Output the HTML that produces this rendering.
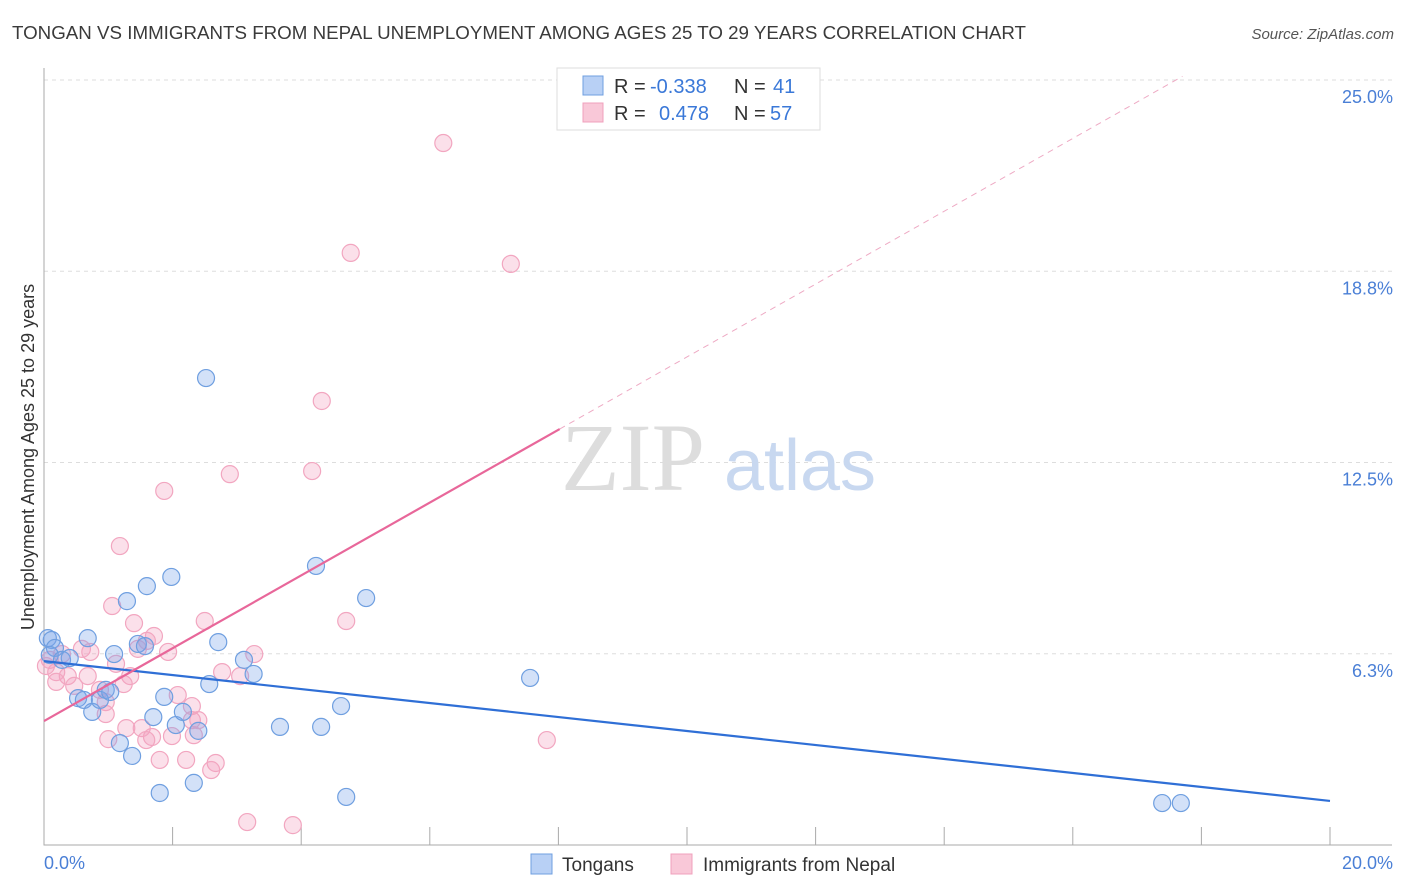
<!DOCTYPE html>
<html><head><meta charset="utf-8"><style>
body{margin:0;background:#fff;font-family:"Liberation Sans",sans-serif;}
svg{display:block}
</style></head><body>
<svg id="chart" width="1406" height="892" xmlns="http://www.w3.org/2000/svg">
<text x="12" y="39" font-size="18" fill="#3a3a3a" textLength="1014" lengthAdjust="spacingAndGlyphs">TONGAN VS IMMIGRANTS FROM NEPAL UNEMPLOYMENT AMONG AGES 25 TO 29 YEARS CORRELATION CHART</text>
<text x="1394" y="39" font-size="15" fill="#555" font-style="italic" text-anchor="end">Source: ZipAtlas.com</text>
<g id="grid"></g>
<g><text x="633" y="490" font-size="96" font-family="Liberation Serif" fill="#ddd" text-anchor="middle">ZIP</text><text x="800" y="490" font-size="72" fill="#c8d8f0" text-anchor="middle">atlas</text></g>
<g id="points"></g>
<g id="lines"></g>
<text transform="translate(34,457) rotate(-90)" font-size="18" fill="#333" text-anchor="middle">Unemployment Among Ages 25 to 29 years</text>
<text x="44" y="869" font-size="18" fill="#4a7fd6">0.0%</text>
<text x="1393" y="869" font-size="18" fill="#4a7fd6" text-anchor="end">20.0%</text>
<g>
<rect x="557" y="68" width="263" height="62" fill="#fff" stroke="#ddd"/>
<rect x="583" y="76" width="20" height="19" fill="#b8d0f5" stroke="#6f9fe0"/>
<rect x="583" y="103" width="20" height="19" fill="#f9c8d8" stroke="#f0a0bc"/>
<g font-size="20" fill="#333">
<text x="614" y="93">R =</text><text x="650" y="93" fill="#3a78d8">-0.338</text><text x="734" y="93">N =</text><text x="773" y="93" fill="#3a78d8">41</text>
<text x="614" y="120">R =</text><text x="659" y="120" fill="#3a78d8">0.478</text><text x="734" y="120">N =</text><text x="770" y="120" fill="#3a78d8">57</text>
</g>
</g>
<g>
<rect x="531" y="854" width="21" height="20" fill="#b8d0f5" stroke="#6f9fe0"/>
<text x="562" y="871" font-size="19" fill="#333">Tongans</text>
<rect x="671" y="854" width="21" height="20" fill="#f9c8d8" stroke="#f0a0bc"/>
<text x="703" y="871" font-size="19" fill="#333">Immigrants from Nepal</text>
</g>
</svg>
<script>
const yTicks=[25,18.75,12.5,6.25];
const yTickLabels=["25.0%","18.8%","12.5%","6.3%"];
const blueX=[0.06,0.12,0.17,0.09,0.28,0.40,0.68,0.53,0.62,0.75,0.87,0.96,1.03,1.09,1.18,1.29,1.37,1.46,1.57,1.60,1.70,1.80,1.87,1.98,2.05,2.16,2.33,2.40,2.52,2.57,2.71,3.11,3.26,3.67,4.23,4.31,4.62,4.70,5.01,7.56,17.39,17.68];
const blueY=[6.76,6.70,6.44,6.21,6.05,6.11,6.76,4.80,4.74,4.35,4.74,5.07,5.00,6.24,3.33,7.97,2.91,6.57,6.50,8.46,4.18,1.70,4.84,8.76,3.92,4.35,2.03,3.73,15.26,5.26,6.63,6.05,5.59,3.86,9.12,3.86,4.54,1.57,8.07,5.46,1.37,1.37];
const pinkX=[6.21,4.77,7.26,4.32,2.89,4.17,1.87,1.18,1.06,2.50,4.70,1.40,1.71,1.60,1.46,3.27,1.93,1.12,0.59,0.72,0.28,0.09,0.19,0.37,0.68,0.47,1.34,1.24,0.87,0.96,2.08,2.30,2.77,3.05,2.30,2.40,0.96,1.28,1.52,1.68,1.99,1.00,1.59,2.33,1.80,2.21,2.67,2.60,7.82,3.16,3.87,0.19,0.03];
const pinkY=[22.94,19.35,18.99,14.51,12.12,12.22,11.57,9.77,7.81,7.32,7.32,7.25,6.83,6.67,6.41,6.24,6.31,5.92,6.41,6.31,6.24,6.05,5.65,5.52,5.52,5.20,5.52,5.26,5.07,4.67,4.90,4.54,5.65,5.52,4.08,4.08,4.28,3.82,3.82,3.53,3.56,3.46,3.43,3.59,2.78,2.78,2.68,2.45,3.43,0.75,0.65,5.33,5.85];
const blueTrend=[6.01,1.44];
const pinkTrend=[4.05,1.19];
const X=v=>44+v*64.3, Y=v=>845-v*30.6;
const NS="http://www.w3.org/2000/svg";
function mk(tag,attrs,parent){const e=document.createElementNS(NS,tag);for(const k in attrs)e.setAttribute(k,attrs[k]);parent.appendChild(e);return e;}
const grid=document.getElementById('grid');
yTicks.forEach((t,i)=>{
 const l=mk('line',{x1:44,x2:1392,y1:Y(t),y2:Y(t),stroke:'#ddd','stroke-dasharray':'4,4'},grid);
 
 
 const tx=mk('text',{x:1393,y:Y(t)+23,'font-size':18,fill:'#4a7fd6','text-anchor':'end'},grid);
 tx.textContent=yTickLabels[i];
 
 
});
const ax=mk('path',{d:`M44 68 V845 H1392`,stroke:'#aaa',fill:'none'},grid);


for(let i=0;i<=20;i+=2){
 const t=mk('line',{x1:X(i),x2:X(i),y1:827,y2:845,stroke:'#aaa'},grid);
 
 
}
const pts=document.getElementById('points');
pinkX.forEach((x,i)=>{
 const c=mk('circle',{cx:X(x),cy:Y(pinkY[i]),r:8.5,fill:'rgba(244,160,190,0.33)',stroke:'#f2a6c0','stroke-width':1.2},pts);
 
 
});
blueX.forEach((x,i)=>{
 const c=mk('circle',{cx:X(x),cy:Y(blueY[i]),r:8.5,fill:'rgba(120,165,235,0.33)',stroke:'#6f9fe0','stroke-width':1.2},pts);
 
 
});
const ln=document.getElementById('lines');
const b=mk('line',{x1:X(0),y1:Y(blueTrend[0]),x2:X(20),y2:Y(blueTrend[1]),stroke:'#2f6fd6','stroke-width':2.2},ln);


const pe=8.02, xEnd=(25-pinkTrend[0])/pinkTrend[1]+0.1;
const p=mk('line',{x1:X(0),y1:Y(pinkTrend[0]),x2:X(pe),y2:Y(pinkTrend[0]+pinkTrend[1]*pe),stroke:'#e8679a','stroke-width':2.2},ln);


const pd=mk('line',{x1:X(pe),y1:Y(pinkTrend[0]+pinkTrend[1]*pe),x2:X(xEnd),y2:Y(pinkTrend[0]+pinkTrend[1]*xEnd),stroke:'#eeaac4','stroke-width':1,'stroke-dasharray':'6,5'},ln);


</script>
</body></html>
